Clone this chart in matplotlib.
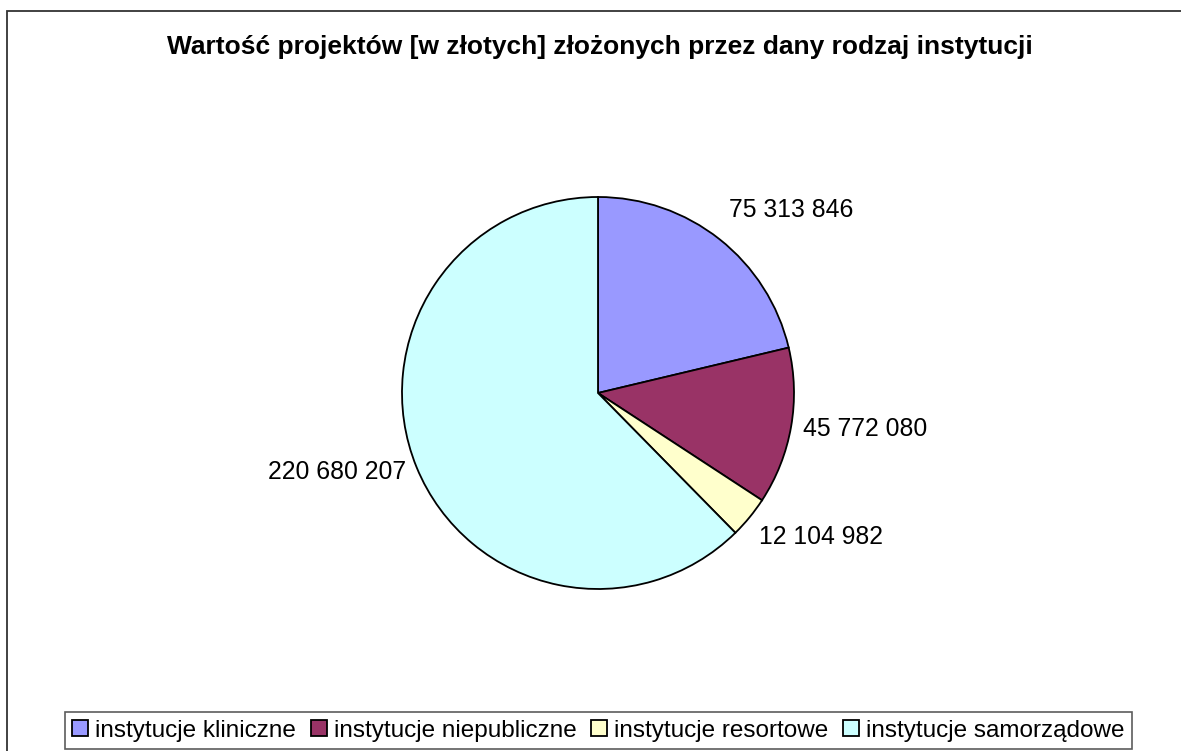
import matplotlib
matplotlib.use("Agg")
import matplotlib.pyplot as plt
import matplotlib.patches as patches
import numpy as np

plt.rcParams['font.family'] = ['Liberation Sans', 'DejaVu Sans']

# data
categories = ['instytucje kliniczne', 'instytucje niepubliczne',
              'instytucje resortowe', 'instytucje samorządowe']
values = [75313846, 45772080, 12104982, 220680207]
colors_ = ['#9999FF', '#993366', '#FFFFCC', '#CCFFFF']
title = 'Wartość projektów [w złotych] złożonych przez dany rodzaj instytucji'

W, H = 1181, 751
fig = plt.figure(figsize=(W / 100, H / 100), dpi=100)

# outer chart border (runs off the right and bottom edge)
fig.patches.append(patches.Rectangle((7 / W, -0.05), 1.1, (H - 11) / H + 0.05,
                                     transform=fig.transFigure, fill=False,
                                     edgecolor='#333333', linewidth=1.3))

fig.text(600 / W, 1 - 47 / H, title, ha='center', va='center',
         fontsize=19, fontweight='bold')

# pie area: center (598, 393), radius 196 px
cx, cy, r = 598, 393, 196
ax = fig.add_axes([(cx - r) / W, (H - cy - r) / H, 2 * r / W, 2 * r / H])

def fmt(v):
    return f'{v:,}'.replace(',', ' ')

wedges, texts = ax.pie(values, colors=colors_, startangle=90, counterclock=False,
                       labels=[fmt(v) for v in values], labeldistance=1.06,
                       wedgeprops=dict(edgecolor='black', linewidth=1.3),
                       textprops=dict(fontsize=17.8))
for w, t in zip(wedges, texts):
    ang = np.deg2rad((w.theta1 + w.theta2) / 2)
    s = np.sin(ang)
    if s > 0.5:
        t.set_va('bottom')
        x, y = t.get_position()
        t.set_position((x * 1.02, y * 1.05))
    elif s < -0.5:
        t.set_va('top')
    else:
        t.set_va('center')
    t.set_clip_on(False)
ax.set_xlim(-1, 1)
ax.set_ylim(-1, 1)
ax.set_aspect('equal')
ax.axis('off')

leg = fig.legend(wedges, categories, loc='lower center', ncol=4,
                 bbox_to_anchor=(598.5 / W, 2 / H), fontsize=17.5,
                 frameon=True, fancybox=False, edgecolor='#333333',
                 handlelength=0.65, handleheight=0.65, handletextpad=0.3,
                 columnspacing=0.6, borderpad=0.3, borderaxespad=0)
leg.get_frame().set_linewidth(1.2)
for h in leg.legend_handles:
    h.set_linewidth(1.3)

fig.savefig('out.png', dpi=100)
